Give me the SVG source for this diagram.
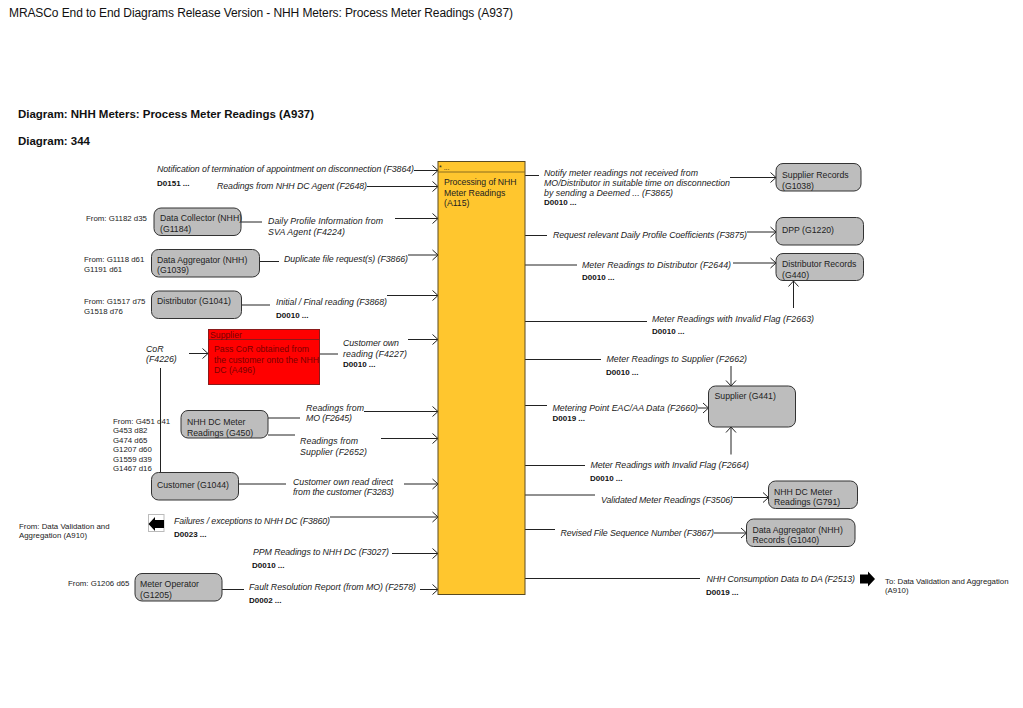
<svg xmlns="http://www.w3.org/2000/svg" width="1023" height="708" viewBox="0 0 1023 708">
<style>
text{font-family:"Liberation Sans",Arial,sans-serif;font-size:8.7px;fill:#222}
.i{font-style:italic;font-size:8.8px}
.b{font-weight:bold;font-size:8px;fill:#111}
.s{font-size:7.85px}
.t{font-size:12px;fill:#111}
.h{font-size:11.5px;font-weight:bold;fill:#111}
.d{fill:#7a0000}
.n{fill:#bdbdbd;stroke:#333;stroke-width:1}
#connectors line{stroke:#222;stroke-width:1;fill:none}
#connectors line.a{marker-end:url(#arr)}
</style>
<defs>
<marker id="arr" markerUnits="userSpaceOnUse" markerWidth="8" markerHeight="12" refX="7" refY="6" orient="auto"><path d="M1.5 1 L7 6 L1.5 11" fill="none" stroke="#222" stroke-width="1"/></marker>
</defs>
<rect width="1023" height="708" fill="#fff"/>
<text class="t" x="9" y="17" textLength="504">MRASCo End to End Diagrams Release Version - NHH Meters: Process Meter Readings (A937)</text>
<text class="h" x="18" y="118" textLength="296">Diagram: NHH Meters: Process Meter Readings (A937)</text>
<text class="h" x="18" y="145" textLength="72">Diagram: 344</text>

<g id="connectors">
<line class="a" x1="414" y1="170.5" x2="438" y2="170.5"/>
<line class="a" x1="367" y1="186.5" x2="438" y2="186.5"/>
<line x1="241" y1="222" x2="262" y2="222"/><line class="a" x1="395" y1="218.5" x2="438" y2="218.5"/>
<line x1="259" y1="261.5" x2="279" y2="261.5"/><line class="a" x1="408" y1="255" x2="438" y2="255"/>
<line x1="241" y1="305" x2="270" y2="305"/><line class="a" x1="387" y1="295.5" x2="438" y2="295.5"/>
<line x1="320" y1="354" x2="338" y2="354"/><line class="a" x1="408" y1="339.5" x2="438" y2="339.5"/>
<line class="a" x1="189" y1="353.5" x2="208" y2="353.5"/>
<line x1="160.5" y1="368" x2="160.5" y2="472"/>
<line x1="268" y1="418" x2="300" y2="418"/><line x1="268" y1="435" x2="295" y2="435"/>
<line class="a" x1="364" y1="411.5" x2="438" y2="411.5"/><line class="a" x1="381" y1="438.5" x2="438" y2="438.5"/>
<line x1="239" y1="484" x2="286" y2="484"/><line class="a" x1="404" y1="484" x2="438" y2="484"/>
<line class="a" x1="330" y1="517" x2="438" y2="517"/>
<line class="a" x1="392" y1="553.5" x2="438" y2="553.5"/>
<line x1="222" y1="589.5" x2="244" y2="589.5"/><line class="a" x1="420" y1="589.5" x2="438" y2="589.5"/>
<line x1="525" y1="175.5" x2="539" y2="175.5"/><line class="a" x1="730" y1="177.5" x2="776" y2="177.5"/>
<line x1="525" y1="235.5" x2="547" y2="235.5"/><line class="a" x1="747" y1="232" x2="776" y2="232"/>
<line x1="525" y1="265" x2="577" y2="265"/><line class="a" x1="733" y1="263" x2="776" y2="263"/>
<line x1="525" y1="321.500" x2="647" y2="321.500"/><line class="a" x1="793.500" y1="308" x2="793.500" y2="281"/>
<line x1="525" y1="359.500" x2="601" y2="359.500"/><line class="a" x1="731" y1="366" x2="731" y2="386"/>
<line x1="525" y1="405.500" x2="547" y2="405.500"/><line class="a" x1="698" y1="408" x2="708.500" y2="408"/>
<line x1="525" y1="465.500" x2="585" y2="465.500"/><line class="a" x1="731" y1="454.500" x2="731" y2="427"/>
<line x1="525" y1="495" x2="595" y2="495"/><line class="a" x1="733" y1="497.500" x2="768.500" y2="497.500"/>
<line x1="525" y1="529.500" x2="555" y2="529.500"/><line class="a" x1="714" y1="533" x2="746.500" y2="533"/>
<line x1="525" y1="578.500" x2="700" y2="578.500"/>
</g>

<g id="A115">
<rect x="438" y="161.500" width="87" height="433" fill="#ffc62e" stroke="#5a4a20"/>
<line x1="438" y1="172" x2="525" y2="172" stroke="#8a6d1f"/>
<text x="439" y="170" style="font-size:7px">* ...</text>
<text x="444" y="185" textLength="72.500">Processing of NHH</text><text x="444" y="195.500">Meter Readings</text><text x="444" y="206">(A115)</text>
</g>
<g id="A496">
<rect x="208.500" y="329.500" width="111" height="55" fill="#f00" stroke="#8a1a1a"/>
<line x1="208" y1="339.500" x2="320" y2="339.500" stroke="#8a1a1a"/>
<text class="d" x="210" y="338" style="fill:#7a0000">Supplier</text>
<text x="214" y="352" style="fill:#7a0000" textLength="95">Pass CoR obtained from</text><text x="214" y="362.500" style="fill:#7a0000" textLength="105">the customer onto the NHH</text><text x="214" y="373" style="fill:#7a0000">DC (A496)</text>
</g>
<g id="G1184"><rect class="n" x="154" y="208" width="87" height="27.500" rx="7"/><text x="160" y="221">Data Collector (NHH)</text><text x="160" y="231.500">(G1184)</text></g>
<g id="G1039"><rect class="n" x="151.500" y="249.500" width="108" height="27.500" rx="7"/><text x="157" y="263">Data Aggregator (NHH)</text><text x="157" y="273">(G1039)</text></g>
<g id="G1041"><rect class="n" x="151.500" y="291" width="90" height="27.500" rx="7"/><text x="157" y="304">Distributor (G1041)</text></g>
<g id="G450"><rect class="n" x="181" y="410.500" width="87" height="27.500" rx="7"/><text x="187" y="425">NHH DC Meter</text><text x="187" y="435.500">Readings (G450)</text></g>
<g id="G1044"><rect class="n" x="151.500" y="472.500" width="87" height="27.500" rx="7"/><text x="157" y="488">Customer (G1044)</text></g>
<g id="G1205"><rect class="n" x="135" y="573.500" width="87" height="27.500" rx="7"/><text x="140" y="587">Meter Operator</text><text x="140" y="598">(G1205)</text></g>
<g id="G1038"><rect class="n" x="776" y="163.500" width="85" height="27.500" rx="7"/><text x="782" y="178">Supplier Records</text><text x="782" y="189">(G1038)</text></g>
<g id="G1220"><rect class="n" x="776" y="217.500" width="87.500" height="27.500" rx="7"/><text x="782" y="233">DPP (G1220)</text></g>
<g id="G440"><rect class="n" x="776" y="253.500" width="87.500" height="27" rx="7"/><text x="782" y="267">Distributor Records</text><text x="782" y="278">(G440)</text></g>
<g id="G441"><rect class="n" x="708.500" y="386" width="87" height="41" rx="7"/><text x="714.500" y="399">Supplier (G441)</text></g>
<g id="G791"><rect class="n" x="768.500" y="481" width="89" height="27.500" rx="7"/><text x="774" y="495">NHH DC Meter</text><text x="774" y="505">Readings (G791)</text></g>
<g id="G1040"><rect class="n" x="746.500" y="519" width="108.500" height="27.500" rx="7"/><text x="752.500" y="533">Data Aggregator (NHH)</text><text x="752.500" y="543">Records (G1040)</text></g>
<g id="A910-in"><rect x="148.500" y="514.500" width="15.500" height="17" fill="#fff" stroke="#bbb"/><path d="M148.500 524 L155 517 V520 H164 V528 H155 V531 Z" fill="#000"/></g>
<g id="A910-out"><path d="M860 574.500 H868 V571.500 L875 579 L868 586.500 V583.500 H860 Z" fill="#000"/></g>

<g id="labels">
<text class="i" x="157" y="172" textLength="257">Notification of termination of appointment on disconnection (F3864)</text>
<text class="b" x="157" y="186">D0151 ...</text>
<text class="i" x="217" y="189" textLength="150">Readings from NHH DC Agent (F2648)</text>
<text class="s" x="86" y="221">From: G1182 d35</text>
<text class="i" x="268" y="224" textLength="115">Daily Profile Information from</text><text class="i" x="268" y="235" textLength="77">SVA Agent (F4224)</text>
<text class="s" x="84" y="262">From: G1118 d61</text><text class="s" x="84" y="272">G1191 d61</text>
<text class="i" x="284" y="262" textLength="124">Duplicate file request(s) (F3866)</text>
<text class="s" x="84" y="304">From: G1517 d75</text><text class="s" x="84" y="314">G1518 d76</text>
<text class="i" x="276" y="305" textLength="111">Initial / Final reading (F3868)</text>
<text class="b" x="276" y="318">D0010 ...</text>
<text class="i" x="146" y="352">CoR</text><text class="i" x="146" y="362">(F4226)</text>
<text class="i" x="343" y="346" textLength="56">Customer own</text><text class="i" x="343" y="357" textLength="64">reading (F4227)</text>
<text class="b" x="343" y="367">D0010 ...</text>
<text class="i" x="306" y="411" textLength="58">Readings from</text><text class="i" x="306" y="421" textLength="46">MO (F2645)</text>
<text class="i" x="300" y="444" textLength="58">Readings from</text><text class="i" x="300" y="455" textLength="67">Supplier (F2652)</text>
<text class="s" x="113" y="424">From: G451 d41</text><text class="s" x="113" y="433">G453 d82</text><text class="s" x="113" y="443">G474 d65</text><text class="s" x="113" y="452">G1207 d60</text><text class="s" x="113" y="462">G1559 d39</text><text class="s" x="113" y="471">G1467 d16</text>
<text class="i" x="293" y="485" textLength="100">Customer own read direct</text><text class="i" x="293" y="495" textLength="101">from the customer (F3283)</text>
<text class="s" x="19" y="529">From: Data Validation and</text><text class="s" x="19" y="538">Aggregation (A910)</text>
<text class="i" x="174" y="524" textLength="156">Failures / exceptions to NHH DC (F3860)</text>
<text class="b" x="174" y="537">D0023 ...</text>
<text class="i" x="253" y="555" textLength="136">PPM Readings to NHH DC (F3027)</text>
<text class="b" x="252" y="568">D0010 ...</text>
<text class="s" x="68" y="586">From: G1206 d65</text>
<text class="i" x="249" y="590" textLength="167">Fault Resolution Report (from MO) (F2578)</text>
<text class="b" x="249" y="603">D0002 ...</text>
<text class="i" x="544" y="176" textLength="154">Notify meter readings not received from</text><text class="i" x="544" y="186" textLength="186">MO/Distributor in suitable time on disconnection</text><text class="i" x="544" y="196" textLength="129">by sending a Deemed ... (F3865)</text>
<text class="b" x="544" y="205">D0010 ...</text>
<text class="i" x="553" y="238" textLength="194">Request relevant Daily Profile Coefficients (F3875)</text>
<text class="i" x="582" y="268" textLength="149">Meter Readings to Distributor (F2644)</text>
<text class="b" x="582" y="280">D0010 ...</text>
<text class="i" x="652" y="322" textLength="162">Meter Readings with Invalid Flag (F2663)</text>
<text class="b" x="652" y="334">D0010 ...</text>
<text class="i" x="606.500" y="362" textLength="140.500">Meter Readings to Supplier (F2662)</text>
<text class="b" x="606" y="375">D0010 ...</text>
<text class="i" x="552.500" y="411" textLength="145.500">Metering Point EAC/AA Data (F2660)</text>
<text class="b" x="552.500" y="421">D0019 ...</text>
<text class="i" x="590.500" y="468" textLength="158.500">Meter Readings with Invalid Flag (F2664)</text>
<text class="b" x="590" y="481">D0010 ...</text>
<text class="i" x="601" y="503" textLength="132">Validated Meter Readings (F3506)</text>
<text class="i" x="560.500" y="536" textLength="153.500">Revised File Sequence Number (F3867)</text>
<text class="i" x="706.500" y="582" textLength="148.500">NHH Consumption Data to DA (F2513)</text>
<text class="b" x="706" y="594.500">D0019 ...</text>
<text class="s" x="885" y="584" textLength="123.500">To: Data Validation and Aggregation</text><text class="s" x="885" y="593">(A910)</text>
</g>
</svg>
